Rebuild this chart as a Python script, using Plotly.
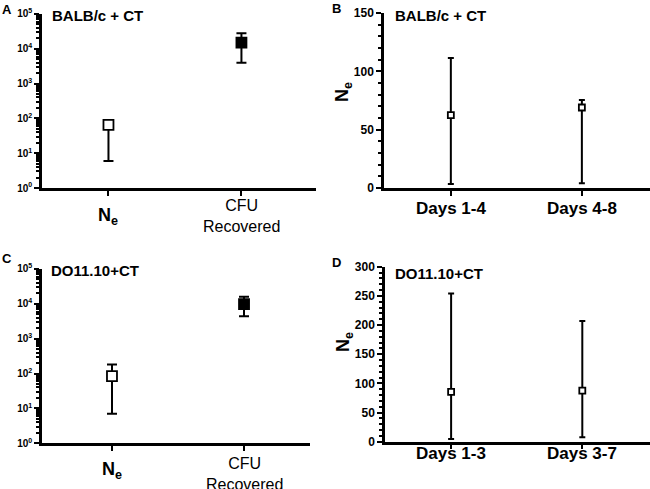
import plotly.graph_objects as go

# Panel A (BALB/c + CT) log scale
a_cats = ["<b>N<sub>e</sub></b>", "CFU<br>Recovered"]
a_vals = [65, 15000]
a_upper = [65, 28000]
a_lower = [6, 4000]

# Panel B
b_cats = ["<b>Days 1-4</b>", "<b>Days 4-8</b>"]
b_vals = [62.5, 69]
b_upper = [111.5, 75.5]
b_lower = [3.5, 4]

# Panel C (DO11.10+CT) log scale
c_cats = ["<b>N<sub>e</sub></b>", "CFU<br>Recovered"]
c_vals = [85, 9800]
c_upper = [183, 16000]
c_lower = [7, 4400]

# Panel D
d_cats = ["<b>Days 1-3</b>", "<b>Days 3-7</b>"]
d_vals = [85.5, 87.5]
d_upper = [254, 207]
d_lower = [4.5, 7.5]

log_ticks = [1, 10, 100, 1000, 10000, 100000]
log_ticktext = ["10<sup>0</sup>", "10<sup>1</sup>", "10<sup>2</sup>",
                "10<sup>3</sup>", "10<sup>4</sup>", "10<sup>5</sup>"]
log_minor = [m * d for d in [1, 10, 100, 1000, 10000] for m in range(2, 10)]

FONT = "Liberation Sans, Arial, sans-serif"
fig = go.Figure()


def add_panel(fig, xa, ya, vals, upper, lower, fills, size, width):
    for i, v in enumerate(vals):
        fig.add_trace(go.Scatter(
            x=[i], y=[v], mode="markers", xaxis=xa, yaxis=ya,
            marker=dict(symbol="square", size=size, color=fills[i],
                        line=dict(color="black", width=1.8)),
            error_y=dict(type="data", symmetric=False,
                         array=[upper[i] - v], arrayminus=[v - lower[i]],
                         color="black", thickness=2, width=width),
            showlegend=False, cliponaxis=False))


add_panel(fig, "x", "y", a_vals, a_upper, a_lower, ["white", "black"], 10, 5)
add_panel(fig, "x2", "y2", b_vals, b_upper, b_lower, ["white", "white"], 6, 3)
add_panel(fig, "x3", "y3", c_vals, c_upper, c_lower, ["white", "black"], 10, 5)
add_panel(fig, "x4", "y4", d_vals, d_upper, d_lower, ["white", "white"], 6, 3)

log_font = dict(family=FONT, size=10, color="#000000", weight="bold")
lin_font = dict(family=FONT, size=12, color="#000000", weight="bold")


def xaxis(domain, rng, anchor):
    return dict(domain=domain, range=rng, anchor=anchor, tickvals=[0, 1],
                showticklabels=False, automargin=False,
                showline=True, linecolor="black", linewidth=2.5,
                ticks="outside", ticklen=5, tickwidth=2, tickcolor="black",
                showgrid=False, zeroline=False)


def logy(domain, anchor):
    return dict(domain=domain, anchor=anchor, type="log", range=[0, 5],
                tickvals=log_ticks, ticktext=log_ticktext, automargin=False,
                showline=True, linecolor="black", linewidth=2.5,
                ticks="outside", ticklen=5, tickwidth=2, tickcolor="black",
                minor=dict(tickmode="array", tickvals=log_minor, ticks="outside",
                           ticklen=3, tickwidth=1.5, tickcolor="black", showgrid=False),
                showgrid=False, zeroline=False, tickfont=log_font)


def liny(domain, anchor, rng, dtick, mdtick):
    return dict(domain=domain, anchor=anchor, range=rng, dtick=dtick, automargin=False,
                showline=True, linecolor="black", linewidth=2.5,
                ticks="outside", ticklen=5, tickwidth=2, tickcolor="black",
                minor=dict(ticks="outside", ticklen=3, tickwidth=1.5, tickcolor="black",
                           dtick=mdtick, showgrid=False),
                showgrid=False, zeroline=False, tickfont=lin_font)


fig.update_layout(
    width=650, height=489, margin=dict(l=0, r=0, t=0, b=0),
    paper_bgcolor="white", plot_bgcolor="white",
    font=dict(family=FONT, color="black"),
    xaxis=xaxis([0.0646, 0.486], [-0.5, 1.56], "y"),
    yaxis=logy([0.6155, 0.9714], "x"),
    xaxis2=xaxis([0.5908, 1.0], [-0.51, 1.52], "y2"),
    yaxis2=liny([0.6155, 0.9734], "x2", [0, 150], 50, 10),
    xaxis3=xaxis([0.0646, 0.477], [-0.53, 1.5], "y3"),
    yaxis3=logy([0.0935, 0.4499], "x3"),
    xaxis4=xaxis([0.5923, 1.0], [-0.504, 1.516], "y4"),
    yaxis4=liny([0.0967, 0.4546], "x4", [0, 300], 50, 10),
)

# category labels (placed as annotations, vertically centred like the reference)
def cat_labels(xref, cats, ys, sizes):
    for i, t in enumerate(cats):
        fig.add_annotation(text=t, x=i, xref=xref, y=1 - ys[i] / 489, yref="paper",
                           showarrow=False, xanchor="center", yanchor="middle",
                           font=dict(family=FONT, size=sizes[i], color="black"))

cat_labels("x", a_cats, [217, 216], [18, 16])
cat_labels("x2", b_cats, [208, 208], [17, 17])
cat_labels("x3", c_cats, [470, 474], [18, 16])
cat_labels("x4", d_cats, [453, 453], [17, 17])

# y axis titles on linear panels
for y in [92, 342]:
    fig.add_annotation(text="<b>N<sub>e</sub></b>", x=344 / 650, y=1 - y / 489,
                       xref="paper", yref="paper", showarrow=False, textangle=-90,
                       xanchor="center", yanchor="middle",
                       font=dict(family=FONT, size=18, color="black"))

# Panel letters and titles
letters = [("A", 7, 10), ("B", 336, 8), ("C", 7, 258), ("D", 336, 262)]
for t, x, y in letters:
    fig.add_annotation(text="<b>" + t + "</b>", x=x / 650, y=1 - y / 489, xref="paper", yref="paper",
                       showarrow=False, xanchor="center", yanchor="middle",
                       font=dict(family=FONT, size=13, color="black"))
titles = [("BALB/c + CT", 50, 16), ("BALB/c + CT", 393, 16),
          ("DO11.10+CT", 49, 270), ("DO11.10+CT", 393, 273)]
for t, x, y in titles:
    fig.add_annotation(text="<b>" + t + "</b>", x=x / 650, y=1 - y / 489, xref="paper", yref="paper",
                       showarrow=False, xanchor="left", yanchor="middle",
                       font=dict(family=FONT, size=15, color="black"))

fig.write_html("out.html", config={"displayModeBar": False},
               post_script="document.body.style.margin='0';")
